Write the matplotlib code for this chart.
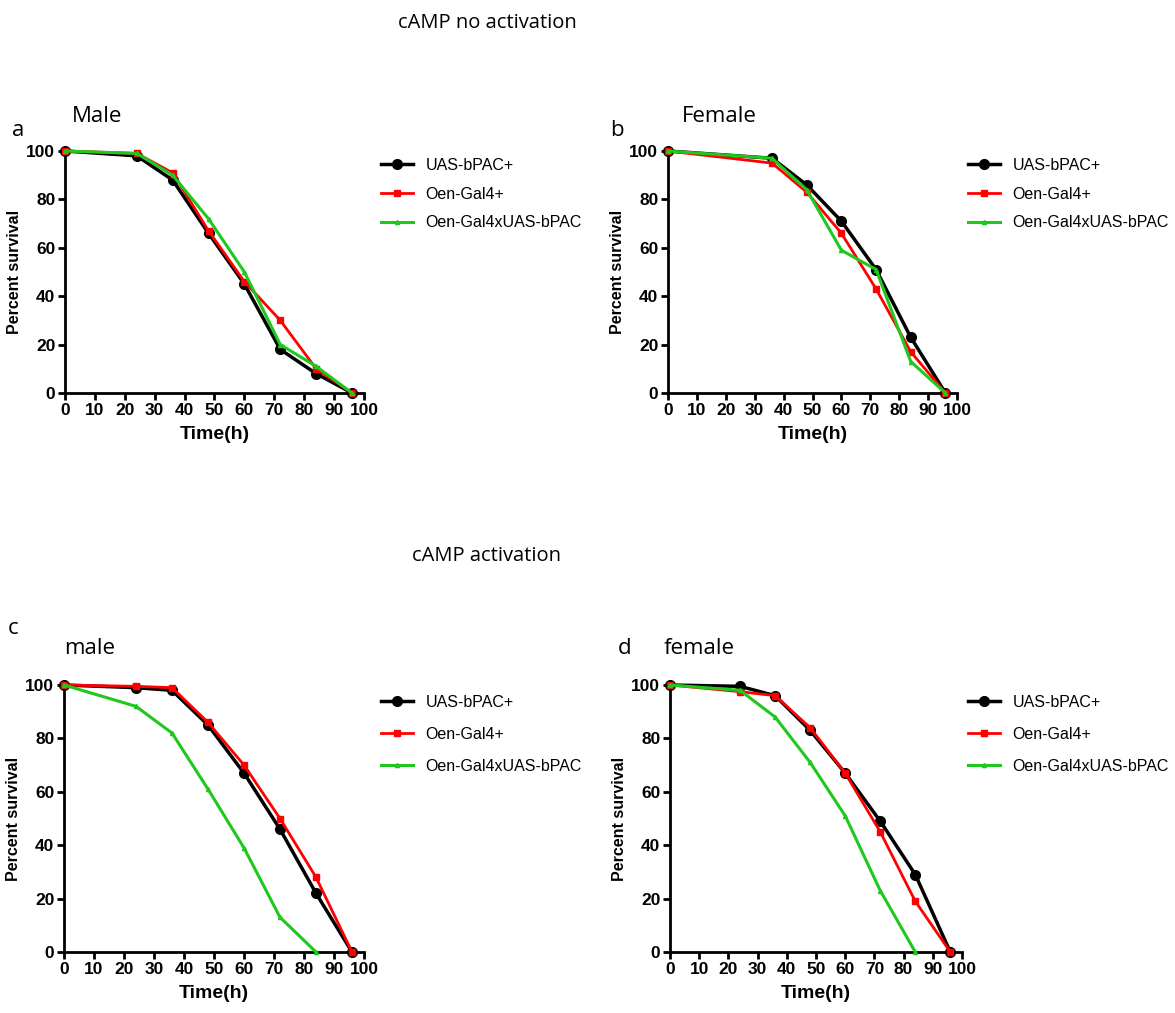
import matplotlib
matplotlib.use("Agg")
import matplotlib.pyplot as plt
from matplotlib.font_manager import FontProperties

# data
labels = ["UAS-bPAC+", "Oen-Gal4+", "Oen-Gal4xUAS-bPAC"]

a_time = [0, 24, 36, 48, 60, 72, 84, 96]
a_black = [100, 98, 88, 66, 45, 18, 8, 0]
a_red = [100, 99, 91, 67, 46, 30, 10, 0]
a_green = [100, 99, 90, 72, 50, 20, 11, 0]

b_time = [0, 36, 48, 60, 72, 84, 96]
b_black = [100, 97, 86, 71, 51, 23, 0]
b_red = [100, 95, 83, 66, 43, 17, 0]
b_green = [100, 97, 84, 59, 51, 13, 0]

c_time = [0, 24, 36, 48, 60, 72, 84, 96]
c_black = [100, 99, 98, 85, 67, 46, 22, 0]
c_red = [100, 99.5, 99, 86, 70, 50, 28, 0]
c_green_time = [0, 24, 36, 48, 60, 72, 84]
c_green = [100, 92, 82, 61, 39, 13, 0]

d_time = [0, 24, 36, 48, 60, 72, 84, 96]
d_black = [100, 99.5, 96, 83, 67, 49, 29, 0]
d_red = [100, 97.5, 96, 84, 67, 45, 19, 0]
d_green_time = [0, 24, 36, 48, 60, 72, 84]
d_green = [100, 98, 88, 71, 51, 23, 0]

W, H = 1175, 1013
fig = plt.figure(figsize=(W / 100, H / 100), dpi=100)

narrow = ["Liberation Sans Narrow", "Liberation Sans"]
head_font = ["Open Sans", "DejaVu Sans"]


def px_axes(left, top, right, bottom):
    return fig.add_axes([left / W, 1 - bottom / H, (right - left) / W, (bottom - top) / H])


def panel(ax, tb, yb, tr, yr, tg, yg, leg_x, leg_y, spacing):
    ax.plot(tb, yb, color="black", lw=2.5, marker="o", ms=7, label=labels[0], clip_on=False, zorder=3)
    ax.plot(tr, yr, color="#ff0000", lw=2, marker="s", ms=4.5, label=labels[1], clip_on=False, zorder=4)
    ax.plot(tg, yg, color="#1ec81e", lw=2.2, marker="^", ms=3, label=labels[2], clip_on=False, zorder=5)
    ax.set_xlim(0, 100)
    ax.set_ylim(0, 100)
    ax.set_xticks(range(0, 101, 10))
    ax.set_yticks(range(0, 101, 20))
    for s in ["top", "right"]:
        ax.spines[s].set_visible(False)
    for s in ["left", "bottom"]:
        ax.spines[s].set_linewidth(2)
    ax.tick_params(direction="out", length=5, width=2, pad=2)
    for t in ax.get_xticklabels() + ax.get_yticklabels():
        t.set_fontproperties(FontProperties(family=narrow, weight="bold", size=12.5))
    ax.set_xlabel("Time(h)", fontdict=dict(family=narrow, weight="bold", size=14), labelpad=6)
    ax.set_ylabel("Percent survival", fontdict=dict(family=["Liberation Sans", "DejaVu Sans"],
                                                     weight="bold", size=11.5), labelpad=3)
    ax.legend(loc="upper left", bbox_to_anchor=(leg_x / W, 1 - leg_y / H),
              bbox_transform=fig.transFigure, frameon=False, borderpad=0, borderaxespad=0,
              prop=dict(family=["Liberation Sans", "DejaVu Sans"], size=11.5),
              handlelength=2.0, labelspacing=spacing, handletextpad=0.8)


ax_a = px_axes(65, 151, 364, 393)
panel(ax_a, a_time, a_black, a_time, a_red, a_time, a_green, 381, 158, 0.85)
ax_b = px_axes(668, 151, 957, 393)
panel(ax_b, b_time, b_black, b_time, b_red, b_time, b_green, 968, 158, 0.85)
ax_c = px_axes(64, 685, 364, 952)
panel(ax_c, c_time, c_black, c_time, c_red, c_green_time, c_green, 381, 695, 1.05)
ax_d = px_axes(670, 685, 962, 952)
panel(ax_d, d_time, d_black, d_time, d_red, d_green_time, d_green, 968, 695, 1.05)

fig.text(487 / W, 1 - 23 / H, "cAMP no activation", ha="center", va="center", family=head_font, size=14.5)
fig.text(487 / W, 1 - 556 / H, "cAMP activation", ha="center", va="center", family=head_font, size=14.5)

fig.text(12 / W, 1 - 130 / H, "a", ha="left", va="center", family=head_font, size=16)
fig.text(72 / W, 1 - 117 / H, "Male", ha="left", va="center", family=head_font, size=16)
fig.text(610 / W, 1 - 130 / H, "b", ha="left", va="center", family=head_font, size=16)
fig.text(682 / W, 1 - 117 / H, "Female", ha="left", va="center", family=head_font, size=16)
fig.text(8 / W, 1 - 628 / H, "c", ha="left", va="center", family=head_font, size=16)
fig.text(64 / W, 1 - 648 / H, "male", ha="left", va="center", family=head_font, size=16)
fig.text(618 / W, 1 - 648 / H, "d", ha="left", va="center", family=head_font, size=16)
fig.text(664 / W, 1 - 648 / H, "female", ha="left", va="center", family=head_font, size=16)

fig.savefig("out.png", dpi=100)
